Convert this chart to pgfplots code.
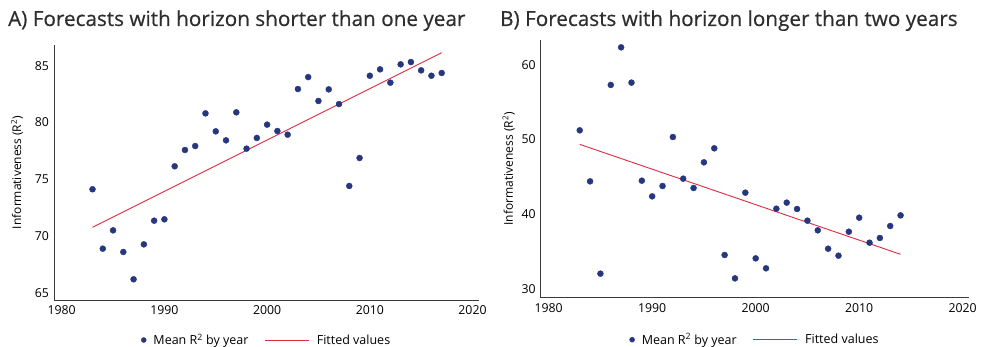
\documentclass[border=0pt]{standalone}
\usepackage{fontspec}
\setmainfont{Open Sans}
\newfontfamily\titlefont{Open Sans}[FakeBold=0.5]
\usepackage{pgfplots}
\pgfplotsset{compat=1.18}
\definecolor{navy}{HTML}{26367F}
\definecolor{fitred}{HTML}{E3293F}
\definecolor{axgray}{HTML}{3A3A3A}
\definecolor{titlegray}{HTML}{2E2E2E}

\pgfplotsset{
  myaxis/.style={
    scale only axis,
    axis lines=left,
    axis line style={draw=axgray, line width=0.8pt, -},
    major tick length=0pt,
    tick style={draw=none},
    xtick={1980,1990,2000,2010,2020},
    /pgf/number format/assume math mode=true,
    /pgf/number format/1000 sep={},
    ticklabel style={font=\fontsize{12.3}{14}\selectfont, text=black},
    yticklabel style={xshift=-1.5pt},
    xticklabel style={yshift=-2.5pt},
    ylabel style={font=\fontsize{12}{14}\selectfont, text=black, anchor=center},
    legend style={draw=none, fill=none, legend columns=2, font=\fontsize{12.5}{14}\selectfont,
      /tikz/every even column/.append style={column sep=14pt}, anchor=center},
    clip=false,
  },
  scat/.style={only marks, mark=*, mark size=3pt, mark options={fill=navy, draw=navy},
    legend image code/.code={\fill[navy] (0pt,0pt) circle (2.5pt);}},
  fitl/.style={no marks, draw=fitred, line width=0.9pt,
    legend image code/.code={\draw[fitred, line width=0.9pt] (0pt,0pt) -- (44pt,0pt);}},
}

\begin{document}
\begin{tikzpicture}[x=1pt,y=1pt]
\useasboundingbox (0,0) rectangle (983,347);

\node[anchor=base west, text=titlegray, font=\titlefont\fontsize{20.7}{24}\selectfont, inner sep=0pt] at (8,321) {A) Forecasts with horizon shorter than one year};
\node[anchor=base west, text=titlegray, font=\titlefont\fontsize{20.7}{24}\selectfont, inner sep=0pt] at (500,321) {B) Forecasts with horizon longer than two years};

\begin{axis}[myaxis,
  at={(54pt,47pt)}, anchor=south west,
  width=425.3pt, height=255pt,
  xmin=1979.25, xmax=2020.66, ymin=64.41, ymax=86.82,
  ytick={65,70,75,80,85},
  ylabel={Informativeness (R\textsuperscript{2})},
  ylabel style={at={(axis description cs:-0.087,0.5)}},
  legend style={at={(0.5,-0.157)}},
]
\addplot[scat] coordinates {
(1983,74.14) (1984,68.92) (1985,70.53) (1986,68.63) (1987,66.23)
(1988,69.30) (1989,71.38) (1990,71.50) (1991,76.16) (1992,77.59)
(1993,77.94) (1994,80.81) (1995,79.23) (1996,78.44) (1997,80.90)
(1998,77.71) (1999,78.65) (2000,79.82) (2001,79.26) (2002,78.94)
(2003,82.95) (2004,84.00) (2005,81.90) (2006,82.92) (2007,81.63)
(2008,74.43) (2009,76.89) (2010,84.12) (2011,84.68) (2012,83.51)
(2013,85.12) (2014,85.32) (2015,84.59) (2016,84.12) (2017,84.36)
};
\addlegendentry{\hspace{5pt}Mean R\textsuperscript{2} by year}
\addplot[fitl] coordinates {(1983,70.80) (2017,86.14)};
\addlegendentry{\hspace{5.5pt}Fitted values}
\end{axis}

\begin{axis}[myaxis,
  at={(540.7pt,49.3pt)}, anchor=south west,
  width=428.6pt, height=257.7pt,
  xmin=1979.23, xmax=2020.64, ymin=28.89, ymax=63.29,
  ytick={30,40,50,60},
  ylabel={Informativeness (R\textsuperscript{2})},
  ylabel style={at={(axis description cs:-0.0747,0.5)}},
  legend style={at={(0.5,-0.163)}},
]
\addplot[scat] coordinates {
(1983,51.23) (1984,44.42) (1985,32.10) (1986,57.29) (1987,62.31)
(1988,57.60) (1989,44.51) (1990,42.42) (1991,43.80) (1992,50.34)
(1993,44.78) (1994,43.53) (1995,46.96) (1996,48.83) (1997,34.59)
(1998,31.47) (1999,42.91) (2000,34.14) (2001,32.81) (2002,40.77)
(2003,41.58) (2004,40.73) (2005,39.17) (2006,37.88) (2007,35.43)
(2008,34.50) (2009,37.70) (2010,39.57) (2011,36.23) (2012,36.86)
(2013,38.46) (2014,39.88)
};
\addlegendentry{\hspace{5pt}Mean R\textsuperscript{2} by year}
\addplot[fitl] coordinates {(1983,49.36) (2014,34.68)};
\addlegendentry{\hspace{5.5pt}Fitted values}
\end{axis}
\end{tikzpicture}
\end{document}
